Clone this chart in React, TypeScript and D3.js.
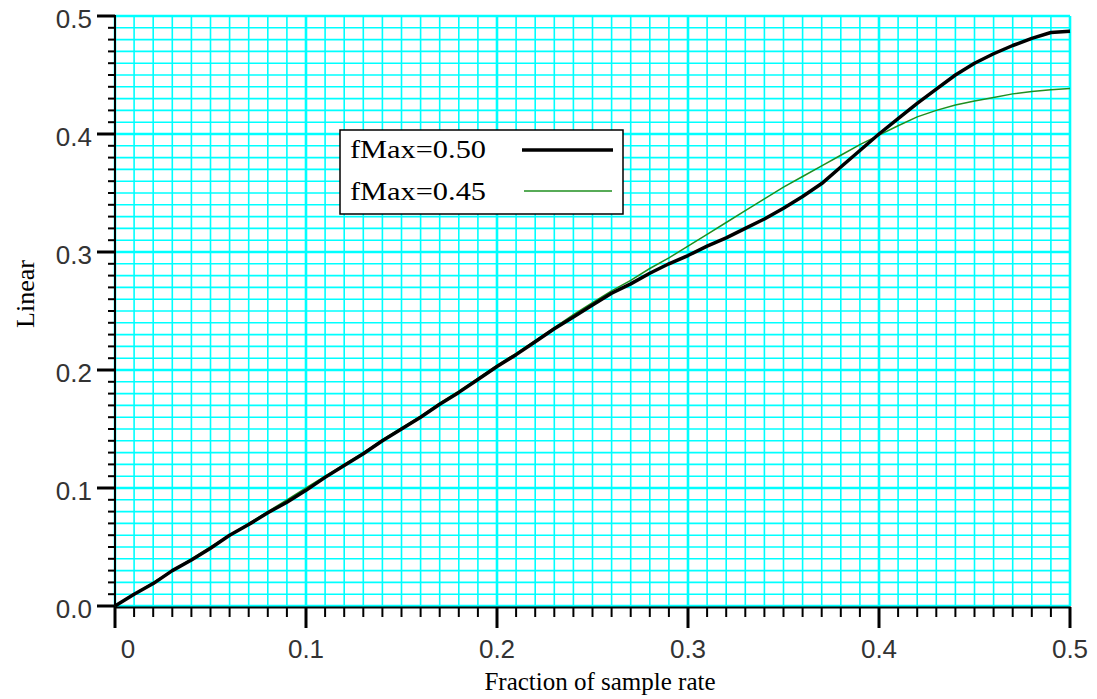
import React from "react";
import * as d3 from "d3";

const freq = [0.00,0.01,0.02,0.03,0.04,0.05,0.06,0.07,0.08,0.09,0.10,0.11,0.12,0.13,0.14,0.15,0.16,0.17,0.18,0.19,0.20,0.21,0.22,0.23,0.24,0.25,0.26,0.27,0.28,0.29,0.30,0.31,0.32,0.33,0.34,0.35,0.36,0.37,0.38,0.39,0.40,0.41,0.42,0.43,0.44,0.45,0.46,0.47,0.48,0.49,0.50];

const fMax050 = [0.000,0.010,0.019,0.030,0.039,0.049,0.060,0.069,0.079,0.088,0.098,0.109,0.119,0.129,0.140,0.150,0.160,0.171,0.181,0.192,0.203,0.213,0.224,0.235,0.245,0.255,0.265,0.273,0.282,0.290,0.297,0.305,0.312,0.320,0.328,0.337,0.347,0.358,0.372,0.386,0.400,0.413,0.426,0.438,0.450,0.460,0.468,0.475,0.481,0.486,0.487];

const fMax045 = [0.000,0.010,0.020,0.030,0.040,0.050,0.060,0.070,0.080,0.090,0.100,0.110,0.120,0.130,0.141,0.151,0.161,0.172,0.182,0.193,0.204,0.214,0.225,0.236,0.247,0.257,0.267,0.276,0.286,0.295,0.305,0.315,0.325,0.335,0.345,0.355,0.364,0.373,0.382,0.391,0.399,0.407,0.4145,0.420,0.4245,0.428,0.431,0.434,0.436,0.4375,0.4385];

const xTickValues = [0, 0.1, 0.2, 0.3, 0.4, 0.5];
const xTickLabels = ["0", "0.1", "0.2", "0.3", "0.4", "0.5"];
const yTickValues = [0, 0.1, 0.2, 0.3, 0.4, 0.5];
const yTickLabels = ["0.0", "0.1", "0.2", "0.3", "0.4", "0.5"];
const seriesNames = ["fMax=0.50", "fMax=0.45"];
const xTitle = "Fraction of sample rate";
const yTitle = "Linear";

export default function App() {
  const W = 1097, H = 699;
  const x = d3.scaleLinear().domain([0, 0.5]).range([115, 1070]);
  const y = d3.scaleLinear().domain([0, 0.5]).range([606, 16]);
  const minor = d3.range(0, 51).map((i) => i / 100);
  const line = d3
    .line<number>()
    .x((_, i) => x(freq[i]))
    .y((d) => y(d))
    .curve(d3.curveLinear);

  const isMajor = (v: number) => Math.abs(v * 10 - Math.round(v * 10)) < 1e-6;

  return (
    <svg
      width={W}
      height={H}
      style={{ position: "absolute", left: 0, top: 0, background: "#fff" }}
    >
      {/* grid */}
      <g>
        {minor.map((v, i) => (
          <line
            key={"gx" + i}
            x1={x(v)}
            x2={x(v)}
            y1={y(0)}
            y2={y(0.5)}
            stroke="#00FFFF"
            strokeWidth={isMajor(v) ? 2.6 : 1.6}
          />
        ))}
        {minor.map((v, i) => (
          <line
            key={"gy" + i}
            x1={x(0)}
            x2={x(0.5)}
            y1={y(v)}
            y2={y(v)}
            stroke="#00FFFF"
            strokeWidth={isMajor(v) ? 2.6 : 1.6}
          />
        ))}
      </g>

      {/* axes */}
      <line x1={x(0)} x2={x(0)} y1={y(0.5) - 1} y2={y(0) + 2} stroke="#000" strokeWidth={2} />
      <line x1={x(0) - 1} x2={x(0.5) + 1} y1={y(0) + 1.5} y2={y(0) + 1.5} stroke="#000" strokeWidth={2} />
      {minor.map((v, i) => (
        <line
          key={"ty" + i}
          x1={isMajor(v) ? x(0) - 18 : x(0) - 7}
          x2={x(0)}
          y1={y(v)}
          y2={y(v)}
          stroke="#000"
          strokeWidth={isMajor(v) ? 3 : 2}
        />
      ))}
      {minor.map((v, i) => (
        <line
          key={"tx" + i}
          x1={x(v)}
          x2={x(v)}
          y1={y(0) + 1}
          y2={isMajor(v) ? y(0) + 22 : y(0) + 11}
          stroke="#000"
          strokeWidth={isMajor(v) ? 3 : 2}
        />
      ))}

      {/* tick labels */}
      {yTickValues.map((v, i) => (
        <text
          key={"yl" + i}
          x={x(0) - 23}
          y={y(v) + 11.5}
          textAnchor="end"
          fontFamily="Liberation Sans, Arial, sans-serif"
          fontSize={26}
          fill="#333"
        >
          {yTickLabels[i]}
        </text>
      ))}
      {xTickValues.map((v, i) => (
        <text
          key={"xl" + i}
          x={x(v) + (i === 0 ? 13 : 0)}
          y={658}
          textAnchor="middle"
          fontFamily="Liberation Sans, Arial, sans-serif"
          fontSize={26}
          fill="#333"
        >
          {xTickLabels[i]}
        </text>
      ))}

      {/* axis titles */}
      <text
        x={600}
        y={690}
        textAnchor="middle"
        fontFamily="Liberation Serif, Times New Roman, serif"
        fontSize={25}
        fill="#000"
      >
        {xTitle}
      </text>
      <text
        transform={`translate(34,294) rotate(-90)`}
        textAnchor="middle"
        fontFamily="Liberation Serif, Times New Roman, serif"
        fontSize={26}
        fill="#000"
      >
        {yTitle}
      </text>

      {/* curves */}
      <path d={line(fMax045) || ""} fill="none" stroke="#1f8f1f" strokeWidth={1.5} />
      <path d={line(fMax050) || ""} fill="none" stroke="#000" strokeWidth={3.5} strokeLinejoin="round" />

      {/* legend */}
      <rect x={340} y={130} width={283} height={84} fill="#fff" stroke="#000" strokeWidth={1.5} />
      <text
        x={350}
        y={158}
        fontFamily="Liberation Serif, Times New Roman, serif"
        fontSize={26}
        textLength={136}
        lengthAdjust="spacingAndGlyphs"
        fill="#000"
      >
        {seriesNames[0]}
      </text>
      <line x1={522} x2={613} y1={150} y2={150} stroke="#000" strokeWidth={3.5} />
      <text
        x={350}
        y={200}
        fontFamily="Liberation Serif, Times New Roman, serif"
        fontSize={26}
        textLength={136}
        lengthAdjust="spacingAndGlyphs"
        fill="#000"
      >
        {seriesNames[1]}
      </text>
      <line x1={524} x2={612} y1={191} y2={191} stroke="#1f8f1f" strokeWidth={1.5} />
    </svg>
  );
}
